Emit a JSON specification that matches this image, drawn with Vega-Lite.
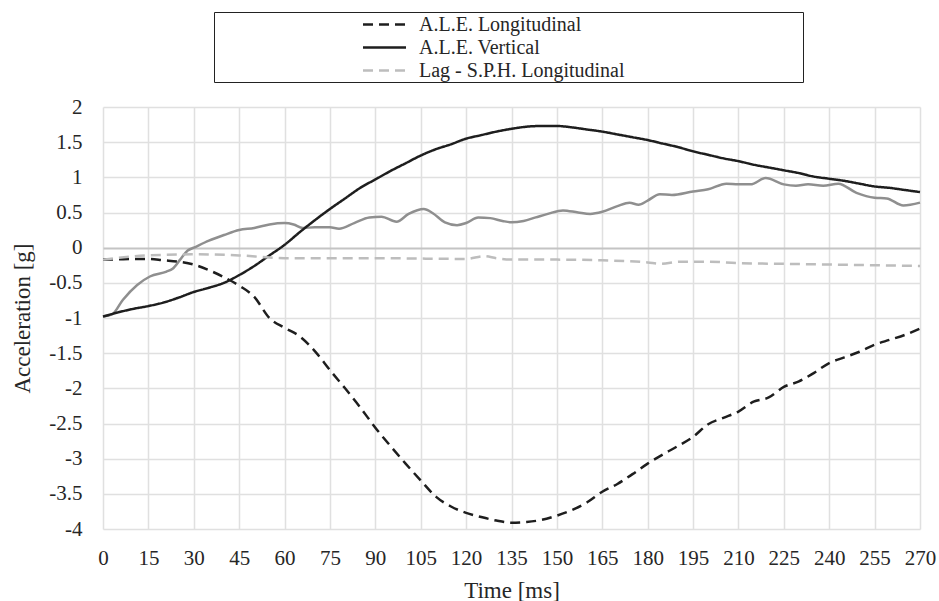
{
  "$schema": "https://vega.github.io/schema/vega-lite/v6.json",
  "autosize": {"type": "none"},
  "width": 817,
  "height": 422,
  "padding": {"left": 103, "top": 107, "right": 19, "bottom": 72},
  "background": "white",
  "config": {
    "font": "Liberation Serif",
    "view": {"stroke": null},
    "axis": {"labelFont": "Liberation Serif", "titleFont": "Liberation Serif", "labelFontSize": 21, "titleFontSize": 23, "labelColor": "#262626", "titleColor": "#262626", "titleFontWeight": "normal", "gridColor": "#e0e0e0", "gridWidth": 1.5, "ticks": false, "domain": false, "labelOverlap": false}
  },
  "datasets": {
    "curves": [
      {"series": "A.L.E. Longitudinal", "t": 0, "v": -0.17},
      {"series": "A.L.E. Longitudinal", "t": 5, "v": -0.165},
      {"series": "A.L.E. Longitudinal", "t": 10, "v": -0.16},
      {"series": "A.L.E. Longitudinal", "t": 15, "v": -0.16},
      {"series": "A.L.E. Longitudinal", "t": 20, "v": -0.18},
      {"series": "A.L.E. Longitudinal", "t": 25, "v": -0.2},
      {"series": "A.L.E. Longitudinal", "t": 30, "v": -0.24},
      {"series": "A.L.E. Longitudinal", "t": 35, "v": -0.32},
      {"series": "A.L.E. Longitudinal", "t": 40, "v": -0.42},
      {"series": "A.L.E. Longitudinal", "t": 45, "v": -0.54},
      {"series": "A.L.E. Longitudinal", "t": 50, "v": -0.7},
      {"series": "A.L.E. Longitudinal", "t": 55, "v": -1.0},
      {"series": "A.L.E. Longitudinal", "t": 60, "v": -1.14},
      {"series": "A.L.E. Longitudinal", "t": 65, "v": -1.26},
      {"series": "A.L.E. Longitudinal", "t": 70, "v": -1.47},
      {"series": "A.L.E. Longitudinal", "t": 75, "v": -1.74},
      {"series": "A.L.E. Longitudinal", "t": 80, "v": -2.0},
      {"series": "A.L.E. Longitudinal", "t": 85, "v": -2.27},
      {"series": "A.L.E. Longitudinal", "t": 90, "v": -2.56},
      {"series": "A.L.E. Longitudinal", "t": 95, "v": -2.82},
      {"series": "A.L.E. Longitudinal", "t": 100, "v": -3.07},
      {"series": "A.L.E. Longitudinal", "t": 105, "v": -3.31},
      {"series": "A.L.E. Longitudinal", "t": 110, "v": -3.54},
      {"series": "A.L.E. Longitudinal", "t": 115, "v": -3.68},
      {"series": "A.L.E. Longitudinal", "t": 120, "v": -3.77},
      {"series": "A.L.E. Longitudinal", "t": 125, "v": -3.83},
      {"series": "A.L.E. Longitudinal", "t": 130, "v": -3.88},
      {"series": "A.L.E. Longitudinal", "t": 135, "v": -3.91},
      {"series": "A.L.E. Longitudinal", "t": 140, "v": -3.9},
      {"series": "A.L.E. Longitudinal", "t": 145, "v": -3.87},
      {"series": "A.L.E. Longitudinal", "t": 150, "v": -3.81},
      {"series": "A.L.E. Longitudinal", "t": 155, "v": -3.73},
      {"series": "A.L.E. Longitudinal", "t": 160, "v": -3.62},
      {"series": "A.L.E. Longitudinal", "t": 165, "v": -3.47},
      {"series": "A.L.E. Longitudinal", "t": 170, "v": -3.36},
      {"series": "A.L.E. Longitudinal", "t": 175, "v": -3.22},
      {"series": "A.L.E. Longitudinal", "t": 180, "v": -3.07},
      {"series": "A.L.E. Longitudinal", "t": 185, "v": -2.94},
      {"series": "A.L.E. Longitudinal", "t": 190, "v": -2.82},
      {"series": "A.L.E. Longitudinal", "t": 195, "v": -2.69},
      {"series": "A.L.E. Longitudinal", "t": 200, "v": -2.51},
      {"series": "A.L.E. Longitudinal", "t": 205, "v": -2.42},
      {"series": "A.L.E. Longitudinal", "t": 210, "v": -2.33},
      {"series": "A.L.E. Longitudinal", "t": 215, "v": -2.19},
      {"series": "A.L.E. Longitudinal", "t": 220, "v": -2.13},
      {"series": "A.L.E. Longitudinal", "t": 225, "v": -1.98},
      {"series": "A.L.E. Longitudinal", "t": 230, "v": -1.9},
      {"series": "A.L.E. Longitudinal", "t": 235, "v": -1.78},
      {"series": "A.L.E. Longitudinal", "t": 240, "v": -1.64},
      {"series": "A.L.E. Longitudinal", "t": 245, "v": -1.56},
      {"series": "A.L.E. Longitudinal", "t": 250, "v": -1.48},
      {"series": "A.L.E. Longitudinal", "t": 255, "v": -1.38},
      {"series": "A.L.E. Longitudinal", "t": 260, "v": -1.31},
      {"series": "A.L.E. Longitudinal", "t": 265, "v": -1.24},
      {"series": "A.L.E. Longitudinal", "t": 270, "v": -1.15},

      {"series": "A.L.E. Vertical", "t": 0, "v": -0.98},
      {"series": "A.L.E. Vertical", "t": 5, "v": -0.92},
      {"series": "A.L.E. Vertical", "t": 10, "v": -0.87},
      {"series": "A.L.E. Vertical", "t": 15, "v": -0.83},
      {"series": "A.L.E. Vertical", "t": 20, "v": -0.78},
      {"series": "A.L.E. Vertical", "t": 25, "v": -0.71},
      {"series": "A.L.E. Vertical", "t": 30, "v": -0.63},
      {"series": "A.L.E. Vertical", "t": 35, "v": -0.57},
      {"series": "A.L.E. Vertical", "t": 40, "v": -0.5},
      {"series": "A.L.E. Vertical", "t": 45, "v": -0.39},
      {"series": "A.L.E. Vertical", "t": 50, "v": -0.26},
      {"series": "A.L.E. Vertical", "t": 55, "v": -0.11},
      {"series": "A.L.E. Vertical", "t": 60, "v": 0.04},
      {"series": "A.L.E. Vertical", "t": 65, "v": 0.22},
      {"series": "A.L.E. Vertical", "t": 70, "v": 0.39},
      {"series": "A.L.E. Vertical", "t": 75, "v": 0.55},
      {"series": "A.L.E. Vertical", "t": 80, "v": 0.7},
      {"series": "A.L.E. Vertical", "t": 85, "v": 0.85},
      {"series": "A.L.E. Vertical", "t": 90, "v": 0.97},
      {"series": "A.L.E. Vertical", "t": 95, "v": 1.09},
      {"series": "A.L.E. Vertical", "t": 100, "v": 1.2},
      {"series": "A.L.E. Vertical", "t": 105, "v": 1.31},
      {"series": "A.L.E. Vertical", "t": 110, "v": 1.4},
      {"series": "A.L.E. Vertical", "t": 115, "v": 1.47},
      {"series": "A.L.E. Vertical", "t": 120, "v": 1.55},
      {"series": "A.L.E. Vertical", "t": 125, "v": 1.6},
      {"series": "A.L.E. Vertical", "t": 130, "v": 1.65},
      {"series": "A.L.E. Vertical", "t": 135, "v": 1.69},
      {"series": "A.L.E. Vertical", "t": 140, "v": 1.72},
      {"series": "A.L.E. Vertical", "t": 145, "v": 1.73},
      {"series": "A.L.E. Vertical", "t": 150, "v": 1.73},
      {"series": "A.L.E. Vertical", "t": 155, "v": 1.71},
      {"series": "A.L.E. Vertical", "t": 160, "v": 1.68},
      {"series": "A.L.E. Vertical", "t": 165, "v": 1.65},
      {"series": "A.L.E. Vertical", "t": 170, "v": 1.61},
      {"series": "A.L.E. Vertical", "t": 175, "v": 1.57},
      {"series": "A.L.E. Vertical", "t": 180, "v": 1.53},
      {"series": "A.L.E. Vertical", "t": 185, "v": 1.48},
      {"series": "A.L.E. Vertical", "t": 190, "v": 1.43},
      {"series": "A.L.E. Vertical", "t": 195, "v": 1.37},
      {"series": "A.L.E. Vertical", "t": 200, "v": 1.32},
      {"series": "A.L.E. Vertical", "t": 205, "v": 1.27},
      {"series": "A.L.E. Vertical", "t": 210, "v": 1.23},
      {"series": "A.L.E. Vertical", "t": 215, "v": 1.18},
      {"series": "A.L.E. Vertical", "t": 220, "v": 1.14},
      {"series": "A.L.E. Vertical", "t": 225, "v": 1.1},
      {"series": "A.L.E. Vertical", "t": 230, "v": 1.06},
      {"series": "A.L.E. Vertical", "t": 235, "v": 1.01},
      {"series": "A.L.E. Vertical", "t": 240, "v": 0.98},
      {"series": "A.L.E. Vertical", "t": 245, "v": 0.95},
      {"series": "A.L.E. Vertical", "t": 250, "v": 0.91},
      {"series": "A.L.E. Vertical", "t": 255, "v": 0.87},
      {"series": "A.L.E. Vertical", "t": 260, "v": 0.85},
      {"series": "A.L.E. Vertical", "t": 265, "v": 0.82},
      {"series": "A.L.E. Vertical", "t": 270, "v": 0.79},

      {"series": "Lag - S.P.H. Longitudinal", "t": 0, "v": -0.17},
      {"series": "Lag - S.P.H. Longitudinal", "t": 15, "v": -0.11},
      {"series": "Lag - S.P.H. Longitudinal", "t": 30, "v": -0.095},
      {"series": "Lag - S.P.H. Longitudinal", "t": 45, "v": -0.11},
      {"series": "Lag - S.P.H. Longitudinal", "t": 55, "v": -0.14},
      {"series": "Lag - S.P.H. Longitudinal", "t": 60, "v": -0.15},
      {"series": "Lag - S.P.H. Longitudinal", "t": 90, "v": -0.15},
      {"series": "Lag - S.P.H. Longitudinal", "t": 120, "v": -0.16},
      {"series": "Lag - S.P.H. Longitudinal", "t": 126, "v": -0.12},
      {"series": "Lag - S.P.H. Longitudinal", "t": 130, "v": -0.15},
      {"series": "Lag - S.P.H. Longitudinal", "t": 135, "v": -0.17},
      {"series": "Lag - S.P.H. Longitudinal", "t": 150, "v": -0.17},
      {"series": "Lag - S.P.H. Longitudinal", "t": 165, "v": -0.18},
      {"series": "Lag - S.P.H. Longitudinal", "t": 180, "v": -0.21},
      {"series": "Lag - S.P.H. Longitudinal", "t": 184, "v": -0.23},
      {"series": "Lag - S.P.H. Longitudinal", "t": 191, "v": -0.2},
      {"series": "Lag - S.P.H. Longitudinal", "t": 200, "v": -0.2},
      {"series": "Lag - S.P.H. Longitudinal", "t": 210, "v": -0.22},
      {"series": "Lag - S.P.H. Longitudinal", "t": 225, "v": -0.23},
      {"series": "Lag - S.P.H. Longitudinal", "t": 240, "v": -0.24},
      {"series": "Lag - S.P.H. Longitudinal", "t": 255, "v": -0.25},
      {"series": "Lag - S.P.H. Longitudinal", "t": 270, "v": -0.26}
    ],
    "sphv": [
      {"series": "Lag - S.P.H. Vertical", "t": 0, "v": -0.98},
      {"series": "Lag - S.P.H. Vertical", "t": 3, "v": -0.95},
      {"series": "Lag - S.P.H. Vertical", "t": 6.6, "v": -0.74},
      {"series": "Lag - S.P.H. Vertical", "t": 11.3, "v": -0.53},
      {"series": "Lag - S.P.H. Vertical", "t": 15.5, "v": -0.41},
      {"series": "Lag - S.P.H. Vertical", "t": 21, "v": -0.34},
      {"series": "Lag - S.P.H. Vertical", "t": 23, "v": -0.3},
      {"series": "Lag - S.P.H. Vertical", "t": 25.5, "v": -0.17},
      {"series": "Lag - S.P.H. Vertical", "t": 28, "v": -0.04},
      {"series": "Lag - S.P.H. Vertical", "t": 30, "v": 0.0},
      {"series": "Lag - S.P.H. Vertical", "t": 35, "v": 0.1},
      {"series": "Lag - S.P.H. Vertical", "t": 40, "v": 0.18},
      {"series": "Lag - S.P.H. Vertical", "t": 45, "v": 0.25},
      {"series": "Lag - S.P.H. Vertical", "t": 50, "v": 0.28},
      {"series": "Lag - S.P.H. Vertical", "t": 55, "v": 0.33},
      {"series": "Lag - S.P.H. Vertical", "t": 60, "v": 0.35},
      {"series": "Lag - S.P.H. Vertical", "t": 63, "v": 0.33},
      {"series": "Lag - S.P.H. Vertical", "t": 66, "v": 0.28},
      {"series": "Lag - S.P.H. Vertical", "t": 70, "v": 0.29},
      {"series": "Lag - S.P.H. Vertical", "t": 75, "v": 0.29},
      {"series": "Lag - S.P.H. Vertical", "t": 78, "v": 0.27},
      {"series": "Lag - S.P.H. Vertical", "t": 83, "v": 0.35},
      {"series": "Lag - S.P.H. Vertical", "t": 88, "v": 0.43},
      {"series": "Lag - S.P.H. Vertical", "t": 92, "v": 0.44},
      {"series": "Lag - S.P.H. Vertical", "t": 97, "v": 0.37},
      {"series": "Lag - S.P.H. Vertical", "t": 101, "v": 0.48},
      {"series": "Lag - S.P.H. Vertical", "t": 106, "v": 0.55},
      {"series": "Lag - S.P.H. Vertical", "t": 109, "v": 0.49},
      {"series": "Lag - S.P.H. Vertical", "t": 113, "v": 0.36},
      {"series": "Lag - S.P.H. Vertical", "t": 117, "v": 0.32},
      {"series": "Lag - S.P.H. Vertical", "t": 120, "v": 0.35},
      {"series": "Lag - S.P.H. Vertical", "t": 124, "v": 0.43},
      {"series": "Lag - S.P.H. Vertical", "t": 128, "v": 0.42},
      {"series": "Lag - S.P.H. Vertical", "t": 132, "v": 0.38},
      {"series": "Lag - S.P.H. Vertical", "t": 135, "v": 0.36},
      {"series": "Lag - S.P.H. Vertical", "t": 139, "v": 0.38},
      {"series": "Lag - S.P.H. Vertical", "t": 143, "v": 0.43},
      {"series": "Lag - S.P.H. Vertical", "t": 147, "v": 0.48},
      {"series": "Lag - S.P.H. Vertical", "t": 152, "v": 0.53},
      {"series": "Lag - S.P.H. Vertical", "t": 157, "v": 0.5},
      {"series": "Lag - S.P.H. Vertical", "t": 161, "v": 0.48},
      {"series": "Lag - S.P.H. Vertical", "t": 165, "v": 0.51},
      {"series": "Lag - S.P.H. Vertical", "t": 170, "v": 0.59},
      {"series": "Lag - S.P.H. Vertical", "t": 174, "v": 0.64},
      {"series": "Lag - S.P.H. Vertical", "t": 177, "v": 0.61},
      {"series": "Lag - S.P.H. Vertical", "t": 180, "v": 0.67},
      {"series": "Lag - S.P.H. Vertical", "t": 184, "v": 0.76},
      {"series": "Lag - S.P.H. Vertical", "t": 188, "v": 0.75},
      {"series": "Lag - S.P.H. Vertical", "t": 195, "v": 0.8},
      {"series": "Lag - S.P.H. Vertical", "t": 200, "v": 0.83},
      {"series": "Lag - S.P.H. Vertical", "t": 206, "v": 0.91},
      {"series": "Lag - S.P.H. Vertical", "t": 210, "v": 0.9},
      {"series": "Lag - S.P.H. Vertical", "t": 214, "v": 0.9},
      {"series": "Lag - S.P.H. Vertical", "t": 219, "v": 0.99},
      {"series": "Lag - S.P.H. Vertical", "t": 225, "v": 0.9},
      {"series": "Lag - S.P.H. Vertical", "t": 229, "v": 0.88},
      {"series": "Lag - S.P.H. Vertical", "t": 233, "v": 0.9},
      {"series": "Lag - S.P.H. Vertical", "t": 238, "v": 0.88},
      {"series": "Lag - S.P.H. Vertical", "t": 243, "v": 0.91},
      {"series": "Lag - S.P.H. Vertical", "t": 249, "v": 0.78},
      {"series": "Lag - S.P.H. Vertical", "t": 255, "v": 0.71},
      {"series": "Lag - S.P.H. Vertical", "t": 259, "v": 0.7},
      {"series": "Lag - S.P.H. Vertical", "t": 264.5, "v": 0.6},
      {"series": "Lag - S.P.H. Vertical", "t": 270, "v": 0.64}
    ]
  },
  "layer": [
    {
      "data": {"name": "sphv"},
      "mark": {"type": "line", "color": "#8f8f8f", "strokeWidth": 2.5, "interpolate": "monotone"},
      "encoding": {
        "x": {"field": "t", "type": "quantitative", "scale": {"domain": [0, 270], "nice": false},
          "axis": {"values": [0, 15, 30, 45, 60, 75, 90, 105, 120, 135, 150, 165, 180, 195, 210, 225, 240, 255, 270], "tickCount": 19, "title": "Time [ms]", "labelPadding": 18, "titlePadding": 11, "labelFlush": false}},
        "y": {"field": "v", "type": "quantitative", "scale": {"domain": [-4, 2], "nice": false, "zero": false},
          "axis": {"values": [-4, -3.5, -3, -2.5, -2, -1.5, -1, -0.5, 0, 0.5, 1, 1.5, 2], "tickCount": 13, "labelExpr": "toString(datum.value)", "title": "Acceleration [g]", "labelPadding": 21, "titlePadding": 14,
            "gridColor": {"condition": {"test": "datum.value === 0", "value": "#c4c4c4"}, "value": "#e0e0e0"},
            "gridWidth": {"condition": {"test": "datum.value === 0", "value": 2}, "value": 1.5}}}
      }
    },
    {
      "data": {"name": "curves"},
      "mark": {"type": "line", "strokeWidth": 2.5, "interpolate": "monotone"},
      "encoding": {
        "x": {"field": "t", "type": "quantitative"},
        "y": {"field": "v", "type": "quantitative"},
        "color": {"field": "series", "type": "nominal",
          "scale": {"domain": ["A.L.E. Longitudinal", "A.L.E. Vertical", "Lag - S.P.H. Longitudinal"], "range": ["#1e1e1e", "#1e1e1e", "#bdbdbd"]},
          "legend": {"title": "\u2800\u2800\u2800\u2800\u2800\u2800\u2800\u2800\u2800\u2800\u2800\u2800\u2800", "titleOrient": "right", "titlePadding": 0, "titleFontSize": 20, "titleFont": "DejaVu Sans", "titleColor": "white",
            "orient": "none", "legendX": 111, "legendY": -95, "direction": "vertical",
            "symbolType": "M-2.15,0H2.15", "symbolSize": 400, "symbolStrokeWidth": 2.5, "symbolOffset": 158,
            "labelFont": "Liberation Serif", "labelFontSize": 20, "labelColor": "#262626", "labelOffset": 23, "labelLimit": 420,
            "rowPadding": 1, "padding": 1, "strokeColor": "#222222", "fillColor": "white"}},
        "strokeDash": {"field": "series", "type": "nominal",
          "scale": {"domain": ["A.L.E. Longitudinal", "A.L.E. Vertical", "Lag - S.P.H. Longitudinal"], "range": [[10, 6], [1, 0], [10, 6]]},
          "legend": {"title": "\u2800\u2800\u2800\u2800\u2800\u2800\u2800\u2800\u2800\u2800\u2800\u2800\u2800", "titleOrient": "right", "titlePadding": 0, "titleFontSize": 20, "titleFont": "DejaVu Sans", "titleColor": "white",
            "orient": "none", "legendX": 111, "legendY": -95, "direction": "vertical",
            "symbolType": "M-2.15,0H2.15", "symbolSize": 400, "symbolStrokeWidth": 2.5, "symbolOffset": 158,
            "labelFont": "Liberation Serif", "labelFontSize": 20, "labelColor": "#262626", "labelOffset": 23, "labelLimit": 420,
            "rowPadding": 1, "padding": 1, "strokeColor": "#222222", "fillColor": "white"}}
      }
    }
  ]
}
